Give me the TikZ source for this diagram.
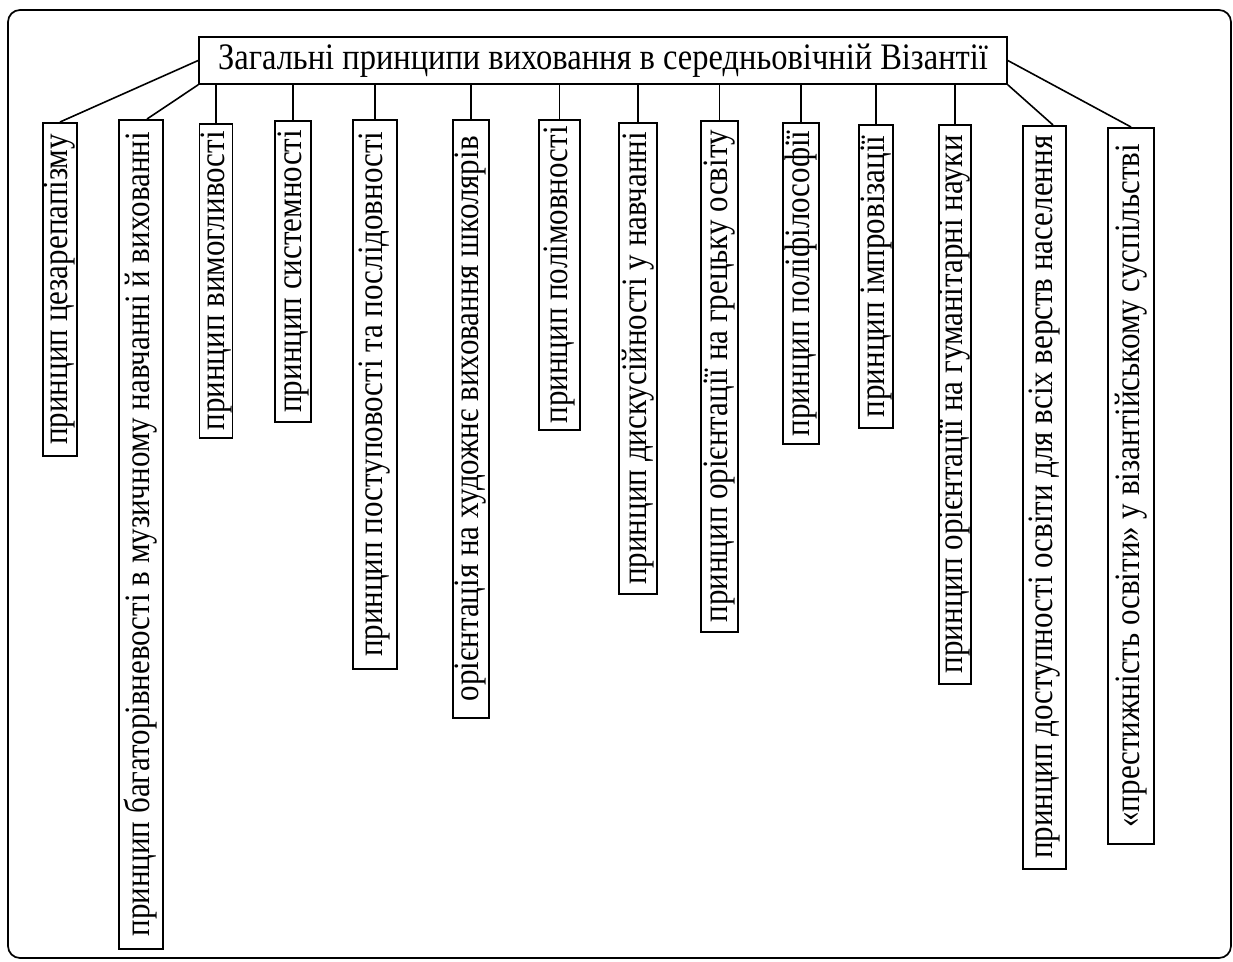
\documentclass[tikz,border=0pt]{standalone}
\usepackage{graphicx}
\usepackage{fontspec}
\setmainfont{Liberation Serif}
\newcommand{\tall}[1]{\scalebox{1}[1.15]{#1}}
\begin{document}
\begin{tikzpicture}[x=1pt,y=-1pt,
  frame/.style={draw, line width=1.7pt, rounded corners=12pt},
  topbox/.style={draw, line width=1.6pt, inner sep=0pt, minimum width=808pt, minimum height=47pt,
    font=\fontsize{32.5}{35}\selectfont},
  pbox/.style={draw, line width=1.6pt, rotate=90, anchor=east, inner sep=0pt,
    font=\fontsize{31}{34}\selectfont},
  link/.style={draw, line width=1.6pt}]
\useasboundingbox (0,0) rectangle (1233,961);
\draw[frame] (8,10) rectangle (1231,958);
\node[topbox] (top) at (603,60.5) {\tall{Загальні принципи виховання в середньовічній Візантії}};
\node[pbox, minimum width=333pt, minimum height=34pt] (b1) at (60,122) {\tall{принцип цезарепапізму}};
\node[pbox, minimum width=829pt, minimum height=44pt] (b2) at (141,119) {\tall{принцип багаторівневості в музичному навчанні й вихованні}};
\node[pbox, minimum width=314pt, minimum height=33pt] (b3) at (216,123) {\tall{принцип вимогливості}};
\node[pbox, minimum width=301pt, minimum height=36pt] (b4) at (293,120) {\tall{принцип системності}};
\node[pbox, minimum width=549pt, minimum height=44pt] (b5) at (375,119) {\tall{принцип поступовості та послідовності}};
\node[pbox, minimum width=598pt, minimum height=36pt] (b6) at (471,119) {\tall{орієнтація на художнє виховання школярів}};
\node[pbox, minimum width=310pt, minimum height=41pt] (b7) at (559.5,119) {\tall{принцип полімовності}};
\node[pbox, minimum width=471pt, minimum height=38pt] (b8) at (638,122) {\tall{принцип дискусійності у навчанні}};
\node[pbox, minimum width=511pt, minimum height=37pt] (b9) at (719.5,120) {\tall{принцип орієнтації на грецьку освіту}};
\node[pbox, minimum width=321pt, minimum height=36pt] (b10) at (801,122) {\tall{принцип поліфілософії}};
\node[pbox, minimum width=303pt, minimum height=34pt] (b11) at (876,124) {\tall{принцип імпровізації}};
\node[pbox, minimum width=559pt, minimum height=32pt] (b12) at (955,124) {\tall{принцип орієнтації на гуманітарні науки}};
\node[pbox, minimum width=743pt, minimum height=43pt] (b13) at (1044.5,125) {\tall{принцип доступності освіти для всіх верств населення}};
\node[pbox, minimum width=716pt, minimum height=46pt] (b14) at (1131,127) {\tall{«престижність освіти» у візантійському суспільстві}};
\draw[link] (top.west) -- (b1.east);
\draw[link] (top.south west) -- ([xshift=6pt]b2.east);
\foreach \b in {b3,b4,b5,b6,b7,b8,b9,b10,b11,b12}
  \draw[link] (\b.east) -- (\b.east |- top.south);
\draw[link] (top.south east) -- ([xshift=8.5pt]b13.east);
\draw[link] (top.east) -- (b14.east);
\end{tikzpicture}
\end{document}
